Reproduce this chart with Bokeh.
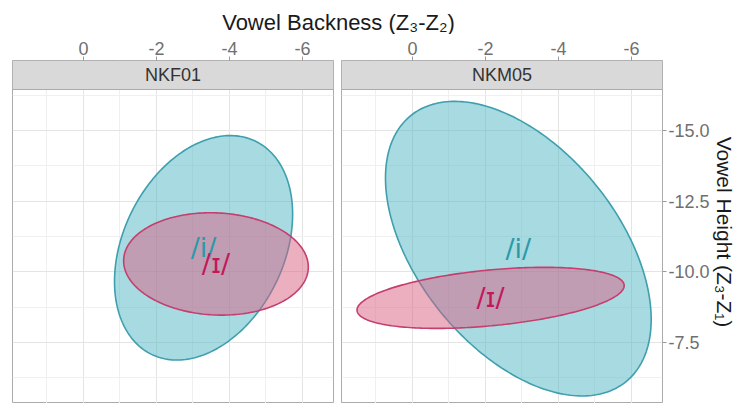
import numpy as np
from bokeh.plotting import figure
from bokeh.models import Range1d, FixedTicker, Label, ColumnDataSource
from bokeh.layouts import column, row
from bokeh.embed import file_html
from bokeh.resources import INLINE
from bokeh.core.properties import value

# ---------------- data ----------------
speakers = ["NKF01", "NKM05"]
vowels = ["/i/", "/ɪ/"]
# index: [speaker][vowel]
mean_backness = [[-3.29, -3.63], [-2.90, -2.14]]     # Z3-Z2 (ellipse centre)
mean_height = [[-10.85, -10.28], [-10.82, -9.08]]    # Z3-Z1 (ellipse centre)
spread_backness = [[2.44, 2.53], [3.64, 3.66]]       # half-width of ellipse
spread_height = [[3.97, 1.81], [5.21, 1.08]]         # half-height of ellipse
correlation = [[0.30, -0.06], [-0.48, 0.40]]

x_ticks = [0, -2, -4, -6]
x_tick_labels = ["0", "-2", "-4", "-6"]
x_minor = [1, -1, -3, -5]
y_ticks = [-15, -12.5, -10, -7.5]
y_tick_labels = ["-15.0", "-12.5", "-10.0", "-7.5"]
y_minor = [-16.25, -13.75, -11.25, -8.75, -6.25]

# ---------------- styles ----------------
fill_cols = ["#51B5C5", "#D75F81"]
line_cols = ["#3E9FAD", "#C43E6E"]
text_cols = ["#2A9AA8", "#C2185B"]
FONT = "Liberation Sans"
X_LEFT, X_RIGHT = 1.945, -6.85
Y_BOTTOM, Y_TOP = -5.343, -17.476
STRIP_BOTTOM = -16.45
STRIP_MID = -16.963
BORDER = "#ABABAB"

t = np.linspace(0, 2 * np.pi, 240)


def ellipse(cx, cy, sx, sy, rho):
    phi = np.arccos(rho)
    return cx + sx * np.cos(t), cy + sy * np.cos(t + phi)


def panel(si, with_y):
    p = figure(frame_width=321, frame_height=343,
               x_range=Range1d(X_LEFT, X_RIGHT), y_range=Range1d(Y_BOTTOM, Y_TOP),
               x_axis_location="above", y_axis_location="right" if with_y else None,
               toolbar_location=None, output_backend="svg",
               min_border_left=4 if with_y else 12, min_border_right=0 if with_y else 4,
               min_border_top=26, min_border_bottom=0,
               background_fill_color="white", border_fill_color="white",
               outline_line_color=BORDER, outline_line_width=1)
    p.xaxis.ticker = FixedTicker(ticks=x_ticks, minor_ticks=x_minor)
    p.xaxis.major_label_overrides = dict(zip(x_ticks, x_tick_labels))
    p.yaxis.ticker = FixedTicker(ticks=y_ticks, minor_ticks=y_minor)
    p.yaxis.major_label_overrides = dict(zip(y_ticks, y_tick_labels))
    for ax in p.axis:
        ax.axis_line_color = None
        ax.major_tick_in = 0
        ax.major_tick_out = 4
        ax.major_tick_line_color = "#9A9A9A"
        ax.minor_tick_line_color = None
        ax.major_label_text_font = FONT
        ax.major_label_text_font_size = "18px"
        ax.major_label_text_color = "#707070"
        ax.major_label_standoff = 2
    if with_y:
        p.yaxis.axis_label = "Vowel Height (Z₃-Z₁)"
        p.yaxis.axis_label_text_font = FONT
        p.yaxis.axis_label_text_font_size = "21px"
        p.yaxis.axis_label_text_font_style = "normal"
        p.yaxis.axis_label_text_color = "#1A1A1A"
        p.yaxis.axis_label_standoff = 0
    for g in (p.xgrid, p.ygrid):
        g.grid_line_color = "#E4E4E4"
        g.minor_grid_line_color = "#F0F0F0"
    p.xgrid.ticker = FixedTicker(ticks=x_ticks, minor_ticks=x_minor)
    p.ygrid.ticker = FixedTicker(ticks=y_ticks, minor_ticks=y_minor)

    for vi in range(2):
        xs, ys = ellipse(mean_backness[si][vi], mean_height[si][vi],
                         spread_backness[si][vi], spread_height[si][vi],
                         correlation[si][vi])
        p.patch(xs, ys, fill_color=fill_cols[vi], fill_alpha=0.5,
                line_color=line_cols[vi], line_width=1.6)
    for vi in range(2):
        src = ColumnDataSource(dict(x=[mean_backness[si][vi]], y=[mean_height[si][vi]],
                                    txt=[vowels[vi]]))
        p.text(x="x", y="y", text="txt", source=src, text_align="center",
               text_baseline="middle", text_color=text_cols[vi],
               text_font=value("DejaVu Sans"), text_font_size="27px")

    # facet strip
    p.quad(left=[X_LEFT], right=[X_RIGHT], top=[Y_TOP], bottom=[STRIP_BOTTOM],
           fill_color="#D9D9D9", line_color=BORDER, line_width=1)
    p.add_layout(Label(x=(X_LEFT + X_RIGHT) / 2, y=STRIP_MID, text=speakers[si],
                       text_align="center", text_baseline="middle",
                       text_font=FONT, text_font_size="18px", text_color="#333333"))
    return p


p1 = panel(0, False)
p2 = panel(1, True)

title = figure(title=None, width=733, height=34, x_range=Range1d(0, 733), y_range=Range1d(0, 34),
               x_axis_type=None, y_axis_type=None, toolbar_location=None,
               output_backend="svg", min_border=0, outline_line_color=None)
title.add_layout(Label(x=338, y=12, text="Vowel Backness (Z₃-Z₂)", text_align="center",
                       text_baseline="middle", text_font=FONT, text_font_size="22px",
                       text_color="#1A1A1A"))

layout = column(title, row(p1, p2))
open("out.html", "w").write(file_html(layout, INLINE))
